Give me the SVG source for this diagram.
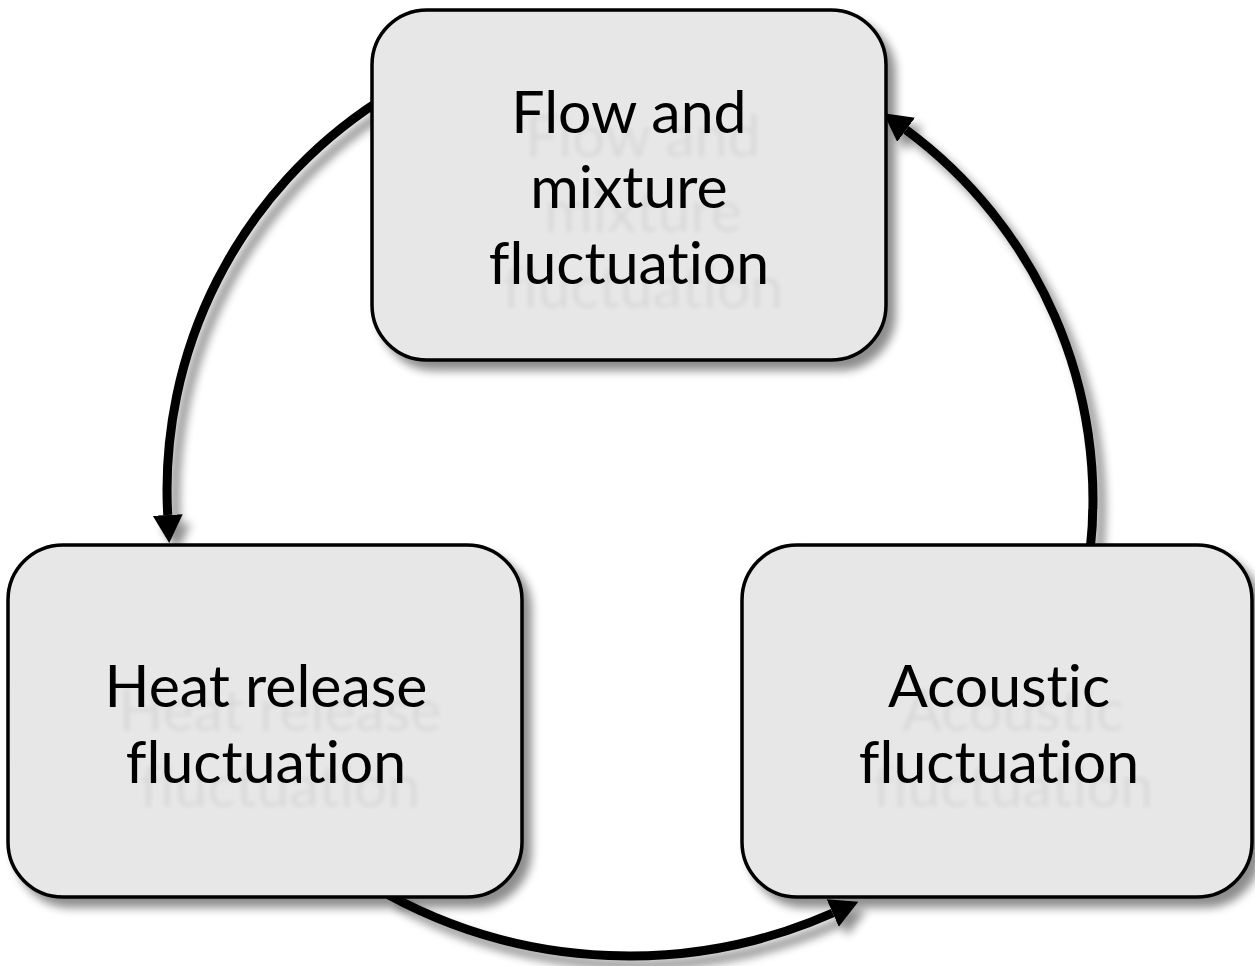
<svg xmlns="http://www.w3.org/2000/svg" width="1255" height="966" viewBox="0 0 1255 966">
  <defs>
    <style>
      .box { fill: #e7e7e7; stroke: #000; stroke-width: 3.5; }
      .lbl { font-family: Lato, "Open Sans", "Liberation Sans", sans-serif; font-size: 59px; fill: #000; text-anchor: middle; font-variant-ligatures: none; font-feature-settings: "liga" 0, "dlig" 0; }
      .conn { fill: none; stroke: #000; stroke-width: 9; }
    </style>
    <filter id="shadow" x="-10%" y="-10%" width="130%" height="130%">
      <feGaussianBlur in="SourceAlpha" stdDeviation="5"/>
      <feOffset dx="8" dy="9" result="b"/>
      <feComponentTransfer><feFuncA type="linear" slope="0.45"/></feComponentTransfer>
      <feMerge><feMergeNode/><feMergeNode in="SourceGraphic"/></feMerge>
    </filter>
    <filter id="ghost" x="-10%" y="-20%" width="130%" height="160%">
      <feGaussianBlur in="SourceAlpha" stdDeviation="2"/>
      <feOffset dx="14" dy="24"/>
      <feComponentTransfer><feFuncA type="linear" slope="0.06"/></feComponentTransfer>
      <feMerge><feMergeNode/><feMergeNode in="SourceGraphic"/></feMerge>
    </filter>
    <marker id="arrow" markerUnits="userSpaceOnUse" markerWidth="40" markerHeight="40" refX="0" refY="15" orient="auto">
      <path d="M0,0 L28,15 L0,30 Z" fill="#000"/>
    </marker>
  </defs>
  <rect width="1255" height="966" fill="#fff"/>
  <g id="connectors" filter="url(#shadow)">
    <path class="conn" d="M 377.9 101.7 A 463 463 0 0 0 167.7 515" marker-end="url(#arrow)"/>
    <path class="conn" d="M 388.5 894.9 A 504 504 0 0 0 832.7 913" marker-end="url(#arrow)"/>
    <path class="conn" d="M 1090 552 A 460 460 0 0 0 906.1 129.8" marker-end="url(#arrow)"/>
  </g>
  <g id="node-flow" filter="url(#shadow)">
    <rect class="box" x="372" y="10" width="514" height="350" rx="55" ry="55"/>
    <g filter="url(#ghost)">
      <text class="lbl" x="629" y="133">Flow and</text>
      <text class="lbl" x="629" y="208">mixture</text>
      <text class="lbl" x="629" y="284">fluctuation</text>
    </g>
  </g>
  <g id="node-heat" filter="url(#shadow)">
    <rect class="box" x="8" y="545" width="514" height="352" rx="55" ry="55"/>
    <g filter="url(#ghost)">
      <text class="lbl" x="266" y="707">Heat release</text>
      <text class="lbl" x="266" y="783">fluctuation</text>
    </g>
  </g>
  <g id="node-acoustic" filter="url(#shadow)">
    <rect class="box" x="742" y="545" width="510" height="352" rx="55" ry="55"/>
    <g filter="url(#ghost)">
      <text class="lbl" x="999" y="707">Acoustic</text>
      <text class="lbl" x="999" y="783">fluctuation</text>
    </g>
  </g>
</svg>
